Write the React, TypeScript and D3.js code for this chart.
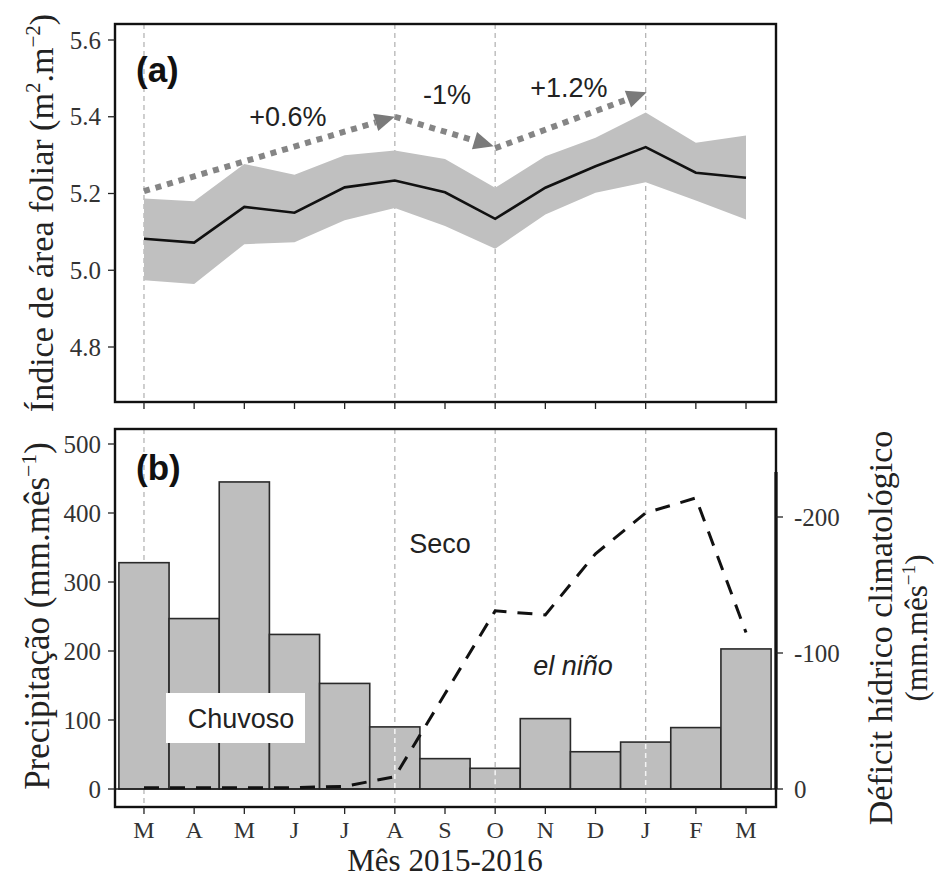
import React, { useEffect, useRef } from 'react';
import * as d3 from 'd3';

const months = ['M', 'A', 'M', 'J', 'J', 'A', 'S', 'O', 'N', 'D', 'J', 'F', 'M'];

// leaf area index (mean and band)
const laiMean = [5.082, 5.072, 5.165, 5.15, 5.216, 5.234, 5.203, 5.134, 5.215, 5.271, 5.321, 5.254, 5.241];
const laiUpper = [5.187, 5.18, 5.277, 5.249, 5.3, 5.312, 5.29, 5.215, 5.297, 5.345, 5.411, 5.332, 5.351];
const laiLower = [4.974, 4.964, 5.068, 5.073, 5.13, 5.162, 5.115, 5.056, 5.145, 5.202, 5.229, 5.182, 5.132];

// monthly rain and climatological water deficit
const precipitation = [328, 247, 445, 224, 153, 90, 44, 30, 102, 54, 68, 89, 203];
const waterDeficit = [-1, -1, -1, -1, -2, -9, -70, -131, -128, -173, -203, -214, -115];

const laiTicks = [4.8, 5.0, 5.2, 5.4, 5.6];
const precipTicks = [0, 100, 200, 300, 400, 500];
const deficitTicks = [0, -100, -200];
const markedMonths = [0, 5, 7, 10];
const overlayMonths = [5, 7, 10];

// trend arrows in panel (a)
const trendLabels = ['+0.6%', '-1%', '+1.2%'];
const trendStartMonth = [0, 5, 7];
const trendEndMonth = [5, 6.97, 10.02];
const trendStartValue = [5.206, 5.4, 5.318];
const trendEndValue = [5.4, 5.323, 5.464];
const trendLabelMonth = [2.87, 6.04, 8.47];
const trendLabelValue = [5.376, 5.433, 5.451];

const SERIF = '"Liberation Serif", "Times New Roman", serif';
const SANS = '"Liberation Sans", Arial, sans-serif';

// rotated axis title with optional superscripts: parts alternate normal / superscript
function axisTitle(
  g: d3.Selection<SVGGElement, unknown, null, undefined>,
  x: number,
  y: number,
  size: number,
  parts: string[]
) {
  const t = g
    .append('text')
    .attr('transform', `translate(${x},${y}) rotate(-90)`)
    .attr('text-anchor', 'middle')
    .attr('font-family', SERIF)
    .attr('font-size', size)
    .attr('fill', '#222');
  const shift = size * 0.38;
  parts.forEach((p, i) => {
    const sup = i % 2 === 1;
    const prevSup = i > 0 && (i - 1) % 2 === 1;
    t.append('tspan')
      .attr('dy', sup ? -shift : prevSup ? shift : 0)
      .attr('font-size', sup ? size * 0.62 : size)
      .text(p);
  });
}

const App: React.FC = () => {
  const svgRef = useRef<SVGSVGElement>(null);

  useEffect(() => {
    if (!svgRef.current) return;
    const svg = d3.select(svgRef.current);
    svg.selectAll('*').remove();

    const left = 115;
    const right = 776;
    const topA = 24;
    const bottomA = 402;
    const topB = 429;
    const bottomB = 807;

    const band = d3
      .scaleBand<number>()
      .domain(months.map((_, i) => i))
      .range([118.9, 771.1])
      .padding(0);
    const cx = (i: number) =>
      (band(Math.floor(i)) || 0) + band.bandwidth() / 2 + (i - Math.floor(i)) * band.bandwidth();

    const yLai = d3.scaleLinear().domain([4.8, 5.6]).range([347, 40]);
    const yP = d3.scaleLinear().domain([0, 500]).range([789, 444]);
    const yD = d3.scaleLinear().domain([0, -200]).range([789, 517]);

    // ---------- panel (a) ----------
    const a = svg.append('g');

    a.selectAll('line.grid')
      .data(markedMonths)
      .enter()
      .append('line')
      .attr('x1', (d) => cx(d))
      .attr('x2', (d) => cx(d))
      .attr('y1', topA)
      .attr('y2', bottomA)
      .attr('stroke', '#b5b5b5')
      .attr('stroke-width', 1.3)
      .attr('stroke-dasharray', '5,4');

    const area = d3
      .area<number>()
      .x((_, i) => cx(i))
      .y0((_, i) => yLai(laiLower[i]))
      .y1((d) => yLai(d));
    a.append('path').datum(laiUpper).attr('d', area).attr('fill', '#c0c0c0');

    const line = d3
      .line<number>()
      .x((_, i) => cx(i))
      .y((d) => yLai(d));
    a.append('path')
      .datum(laiMean)
      .attr('d', line)
      .attr('fill', 'none')
      .attr('stroke', '#111')
      .attr('stroke-width', 2.6);

    trendLabels.forEach((label, i) => {
      const x1 = cx(trendStartMonth[i]);
      const y1 = yLai(trendStartValue[i]);
      const x2 = cx(trendEndMonth[i]);
      const y2 = yLai(trendEndValue[i]);
      const ang = Math.atan2(y2 - y1, x2 - x1);
      const headLen = 20;
      const headW = 9;
      const bx = x2 - headLen * Math.cos(ang);
      const by = y2 - headLen * Math.sin(ang);
      a.append('line')
        .attr('x1', x1)
        .attr('y1', y1)
        .attr('x2', bx)
        .attr('y2', by)
        .attr('stroke', '#858585')
        .attr('stroke-width', 6)
        .attr('stroke-dasharray', '6,6');
      const px = -Math.sin(ang);
      const py = Math.cos(ang);
      a.append('path')
        .attr('d', `M${x2},${y2}L${bx + px * headW},${by + py * headW}L${bx - px * headW},${by - py * headW}Z`)
        .attr('fill', '#7a7a7a');
      a.append('text')
        .attr('x', cx(trendLabelMonth[i]))
        .attr('y', yLai(trendLabelValue[i]))
        .attr('text-anchor', 'middle')
        .attr('font-family', SANS)
        .attr('font-size', 27)
        .attr('fill', '#222')
        .text(label);
    });

    a.append('text')
      .attr('x', 136)
      .attr('y', 82)
      .attr('font-family', SANS)
      .attr('font-weight', 'bold')
      .attr('font-size', 35)
      .attr('fill', '#111')
      .text('(a)');

    a.append('rect')
      .attr('x', left)
      .attr('y', topA)
      .attr('width', right - left)
      .attr('height', bottomA - topA)
      .attr('fill', 'none')
      .attr('stroke', '#111')
      .attr('stroke-width', 2.4);

    a.selectAll('line.ytick')
      .data(laiTicks)
      .enter()
      .append('line')
      .attr('x1', left - 7)
      .attr('x2', left)
      .attr('y1', (d) => yLai(d))
      .attr('y2', (d) => yLai(d))
      .attr('stroke', '#222')
      .attr('stroke-width', 1.3);
    a.selectAll('text.ytick')
      .data(laiTicks)
      .enter()
      .append('text')
      .attr('x', 101)
      .attr('y', (d) => yLai(d))
      .attr('dy', '0.34em')
      .attr('text-anchor', 'end')
      .attr('font-family', SERIF)
      .attr('font-size', 25)
      .attr('fill', '#333')
      .text((d) => d3.format('.1f')(d));
    a.selectAll('line.xtick')
      .data(months.map((_, i) => i))
      .enter()
      .append('line')
      .attr('x1', (d) => cx(d))
      .attr('x2', (d) => cx(d))
      .attr('y1', bottomA)
      .attr('y2', bottomA + 7)
      .attr('stroke', '#222')
      .attr('stroke-width', 1.3);

    axisTitle(a, 53, 213, 34, ['Índice de área foliar (m', '2', '.m', '−2', ')']);

    // ---------- panel (b) ----------
    const b = svg.append('g');

    b.selectAll('line.grid')
      .data(markedMonths)
      .enter()
      .append('line')
      .attr('x1', (d) => cx(d))
      .attr('x2', (d) => cx(d))
      .attr('y1', topB)
      .attr('y2', bottomB)
      .attr('stroke', '#b5b5b5')
      .attr('stroke-width', 1.3)
      .attr('stroke-dasharray', '5,4');

    b.selectAll('rect.bar')
      .data(precipitation)
      .enter()
      .append('rect')
      .attr('x', (_, i) => band(i) || 0)
      .attr('y', (d) => yP(d))
      .attr('width', band.bandwidth())
      .attr('height', (d) => yP(0) - yP(d))
      .attr('fill', '#bebebe')
      .attr('stroke', '#2a2a2a')
      .attr('stroke-width', 1.6);

    b.selectAll('line.overlay')
      .data(overlayMonths)
      .enter()
      .append('line')
      .attr('x1', (d) => cx(d))
      .attr('x2', (d) => cx(d))
      .attr('y1', (d) => yP(precipitation[d]) + 2)
      .attr('y2', yP(0))
      .attr('stroke', '#f4f4f4')
      .attr('stroke-width', 1.5)
      .attr('stroke-dasharray', '5,4');

    b.append('line')
      .attr('x1', left)
      .attr('x2', right)
      .attr('y1', yP(0))
      .attr('y2', yP(0))
      .attr('stroke', '#222')
      .attr('stroke-width', 1.6);

    const defLine = d3
      .line<number>()
      .x((_, i) => cx(i))
      .y((d) => yD(d));
    b.append('path')
      .datum(waterDeficit)
      .attr('d', defLine)
      .attr('fill', 'none')
      .attr('stroke', '#111')
      .attr('stroke-width', 3)
      .attr('stroke-dasharray', '15,11');

    b.append('rect').attr('x', 166).attr('y', 693).attr('width', 139).attr('height', 50).attr('fill', '#fff');
    b.append('text')
      .attr('x', 241)
      .attr('y', 728)
      .attr('text-anchor', 'middle')
      .attr('font-family', SANS)
      .attr('font-size', 27)
      .attr('fill', '#222')
      .text('Chuvoso');
    b.append('text')
      .attr('x', 440)
      .attr('y', 553)
      .attr('text-anchor', 'middle')
      .attr('font-family', SANS)
      .attr('font-size', 27)
      .attr('fill', '#222')
      .text('Seco');
    b.append('text')
      .attr('x', 573)
      .attr('y', 675)
      .attr('text-anchor', 'middle')
      .attr('font-family', SANS)
      .attr('font-style', 'italic')
      .attr('font-size', 27)
      .attr('fill', '#222')
      .text('el niño');
    b.append('text')
      .attr('x', 136)
      .attr('y', 480)
      .attr('font-family', SANS)
      .attr('font-weight', 'bold')
      .attr('font-size', 35)
      .attr('fill', '#111')
      .text('(b)');

    b.append('rect')
      .attr('x', left)
      .attr('y', topB)
      .attr('width', right - left)
      .attr('height', bottomB - topB)
      .attr('fill', 'none')
      .attr('stroke', '#111')
      .attr('stroke-width', 2.4);

    // right axis line over the frame
    b.append('line')
      .attr('x1', right)
      .attr('x2', right)
      .attr('y1', yD(-233))
      .attr('y2', yD(0))
      .attr('stroke', '#111')
      .attr('stroke-width', 3.2);

    b.selectAll('line.ytick')
      .data(precipTicks)
      .enter()
      .append('line')
      .attr('x1', left - 7)
      .attr('x2', left)
      .attr('y1', (d) => yP(d))
      .attr('y2', (d) => yP(d))
      .attr('stroke', '#222')
      .attr('stroke-width', 1.3);
    b.selectAll('text.ytick')
      .data(precipTicks)
      .enter()
      .append('text')
      .attr('x', 101)
      .attr('y', (d) => yP(d))
      .attr('dy', '0.34em')
      .attr('text-anchor', 'end')
      .attr('font-family', SERIF)
      .attr('font-size', 25)
      .attr('fill', '#333')
      .text((d) => d);

    b.selectAll('line.rtick')
      .data(deficitTicks)
      .enter()
      .append('line')
      .attr('x1', right)
      .attr('x2', right + 7)
      .attr('y1', (d) => yD(d))
      .attr('y2', (d) => yD(d))
      .attr('stroke', '#222')
      .attr('stroke-width', 1.3);
    b.selectAll('text.rtick')
      .data(deficitTicks)
      .enter()
      .append('text')
      .attr('x', 794)
      .attr('y', (d) => yD(d))
      .attr('dy', '0.34em')
      .attr('font-family', SERIF)
      .attr('font-size', 25)
      .attr('fill', '#333')
      .text((d) => d);

    b.selectAll('line.xtick')
      .data(months.map((_, i) => i))
      .enter()
      .append('line')
      .attr('x1', (d) => cx(d))
      .attr('x2', (d) => cx(d))
      .attr('y1', bottomB)
      .attr('y2', bottomB + 7)
      .attr('stroke', '#222')
      .attr('stroke-width', 1.3);
    b.selectAll('text.xtick')
      .data(months)
      .enter()
      .append('text')
      .attr('x', (_, i) => cx(i))
      .attr('y', 838)
      .attr('text-anchor', 'middle')
      .attr('font-family', SERIF)
      .attr('font-size', 24)
      .attr('fill', '#333')
      .text((d) => d);

    b.append('text')
      .attr('x', 445)
      .attr('y', 871)
      .attr('text-anchor', 'middle')
      .attr('font-family', SERIF)
      .attr('font-size', 31)
      .attr('fill', '#222')
      .text('Mês 2015-2016');

    axisTitle(b, 49, 616, 35, ['Precipitação (mm.mês', '−1', ')']);
    axisTitle(b, 892, 628, 34, ['Déficit hídrico climatológico']);
    axisTitle(b, 927, 628, 31, ['(mm.mês', '−1', ')']);
  }, []);

  return (
    <div style={{ position: 'absolute', left: 0, top: 0 }}>
      <svg ref={svgRef} width="938" height="878" style={{ display: 'block', background: '#fff' }}></svg>
    </div>
  );
};

export default App;
